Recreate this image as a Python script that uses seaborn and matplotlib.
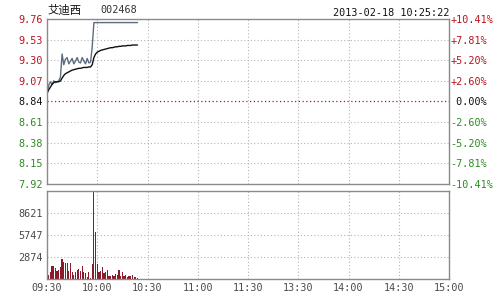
import numpy as np
import pandas as pd
import matplotlib
matplotlib.use("Agg")
import matplotlib.pyplot as plt
import seaborn as sns

# ---------------- data ----------------
stock_name = "艾迪西"
stock_code = "002468"
timestamp = "2013-02-18 10:25:22"
prev_close = 8.84

price = [8.92, 9.02, 9.06, 9.03, 9.07, 9.05, 9.06, 9.07, 9.11, 9.37,
         9.25, 9.31, 9.33, 9.26, 9.29, 9.32, 9.26, 9.29, 9.33, 9.28,
         9.27, 9.33, 9.29, 9.26, 9.32, 9.27, 9.28, 9.45, 9.72, 9.72,
         9.72, 9.72, 9.72, 9.72, 9.72, 9.72, 9.72, 9.72, 9.72, 9.72,
         9.72, 9.72, 9.72, 9.72, 9.72, 9.72, 9.72, 9.72, 9.72, 9.72,
         9.72, 9.72, 9.72, 9.72, 9.72]

avg_price = [8.93, 8.97, 9.00, 9.03, 9.05, 9.06, 9.06, 9.06, 9.07, 9.10,
             9.13, 9.15, 9.16, 9.17, 9.18, 9.19, 9.195, 9.20, 9.205, 9.21,
             9.21, 9.215, 9.22, 9.22, 9.22, 9.225, 9.225, 9.25, 9.33, 9.37,
             9.39, 9.40, 9.41, 9.415, 9.42, 9.425, 9.43, 9.435, 9.44, 9.44,
             9.445, 9.45, 9.45, 9.455, 9.455, 9.46, 9.46, 9.46, 9.465, 9.465,
             9.465, 9.47, 9.47, 9.47, 9.47]

volume = [700, 570, 870, 1740, 1650, 1480, 1000, 1220, 1570, 2600,
          2180, 2130, 2040, 1000, 2130, 870, 570, 960, 1130, 1300,
          1040, 1650, 960, 830, 300, 910, 150, 2000, 11495, 6090,
          2000, 910, 1090, 1570, 740, 870, 1220, 390, 435, 570,
          435, 610, 570, 1220, 435, 960, 435, 570, 260, 435,
          350, 520, 300, 220, 130]

price_ticks = [9.76, 9.53, 9.30, 9.07, 8.84, 8.61, 8.38, 8.15, 7.92]
pct_labels = ["+10.41%", "+7.81%", "+5.20%", "+2.60%", " 0.00%",
              "-2.60%", "-5.20%", "-7.81%", "-10.41%"]
vol_ticks = [2874, 5747, 8621]
vol_max = 11495
time_labels = ["09:30", "10:00", "10:30", "11:00", "11:30",
               "13:30", "14:00", "14:30", "15:00"]

# ---------------- style ----------------
sns.set_theme(style="white")
plt.rcParams['font.family'] = ['DejaVu Sans Mono', 'DejaVu Sans']

RED = '#b8141e'
GREEN = '#2e8b22'
GRAY_TXT = '#4a4a4a'
FRAME = '#8a8a8a'
GRID = '#b4b4b4'
FS = 7.3

minutes = np.arange(len(price))
df = pd.DataFrame({'minute': minutes, 'price': price, 'avg': avg_price, 'volume': volume})

fig = plt.figure(figsize=(5, 3), dpi=100)
ax = fig.add_axes([47/500, 1-184/300, 402/500, 165/300])
axv = fig.add_axes([47/500, 1-279/300, 402/500, 88/300])

grid_x = [30, 60, 90, 120, 150, 180, 210]
dot = (0, (1, 2))

for a in (ax, axv):
    a.set_xlim(0, 240)
    for s in a.spines.values():
        s.set_color(FRAME)
        s.set_linewidth(1.0)
    for gx in grid_x:
        a.axvline(gx, color=GRID, lw=0.8, ls=dot, zorder=0)

# ---- price panel ----
ax.set_ylim(price_ticks[-1], price_ticks[0])
for v in price_ticks[1:-1]:
    if abs(v - prev_close) < 1e-9:
        ax.axhline(v, color=RED, lw=0.9, ls=dot, zorder=1)
    else:
        ax.axhline(v, color=GRID, lw=0.8, ls=dot, zorder=0)

sns.lineplot(data=df, x='minute', y='price', ax=ax, color='#5d6c80', linewidth=1.0)
sns.lineplot(data=df, x='minute', y='avg', ax=ax, color='#111111', linewidth=1.0)
ax.set_xlabel('')
ax.set_ylabel('')
ax.set_xticks([])

ax.set_yticks(price_ticks)
ax.set_yticklabels([f"{v:.2f}" for v in price_ticks])
ax.tick_params(axis='y', length=0, pad=3, labelsize=FS)
for lab, v in zip(ax.get_yticklabels(), price_ticks):
    if v > prev_close + 1e-9:
        lab.set_color(RED)
    elif v < prev_close - 1e-9:
        lab.set_color(GREEN)
    else:
        lab.set_color('#111111')

ax2 = ax.twinx()
ax2.set_ylim(ax.get_ylim())
ax2.set_yticks(price_ticks)
ax2.set_yticklabels(pct_labels)
ax2.tick_params(axis='y', length=0, pad=1, labelsize=FS)
for s in ax2.spines.values():
    s.set_visible(False)
for lab, v in zip(ax2.get_yticklabels(), price_ticks):
    if v > prev_close + 1e-9:
        lab.set_color(RED)
    elif v < prev_close - 1e-9:
        lab.set_color(GREEN)
    else:
        lab.set_color('#111111')

# ---- volume panel ----
sns.barplot(data=df, x='minute', y='volume', ax=axv, native_scale=True,
            color='#8a1a2c', saturation=1, width=0.7, linewidth=0, zorder=2)
axv.set_xlim(0, 240)
axv.set_ylim(0, vol_max)
for v in vol_ticks:
    axv.axhline(v, color=GRID, lw=0.8, ls=dot, zorder=0)
axv.set_xlabel('')
axv.set_ylabel('')
axv.set_yticks(vol_ticks)
axv.set_yticklabels([str(v) for v in vol_ticks])
axv.tick_params(axis='y', length=0, pad=3, labelsize=FS, labelcolor=GRAY_TXT)
axv.set_xticks(np.arange(0, 241, 30))
axv.set_xticklabels(time_labels)
axv.tick_params(axis='x', length=0, pad=3, labelsize=FS, labelcolor=GRAY_TXT)

# ---- header ----
fig.text(47/500, 1-10/300, stock_name, fontsize=8.2, va='center', ha='left',
         family=['Noto Sans CJK SC', 'DejaVu Sans'], color='#111111')
fig.text(100/500, 1-10/300, stock_code, fontsize=FS, va='center', ha='left',
         color='#333333')
fig.text(449/500, 1-12.5/300, timestamp, fontsize=FS, va='center', ha='right',
         color='#111111')

fig.savefig('out.png', dpi=100)
